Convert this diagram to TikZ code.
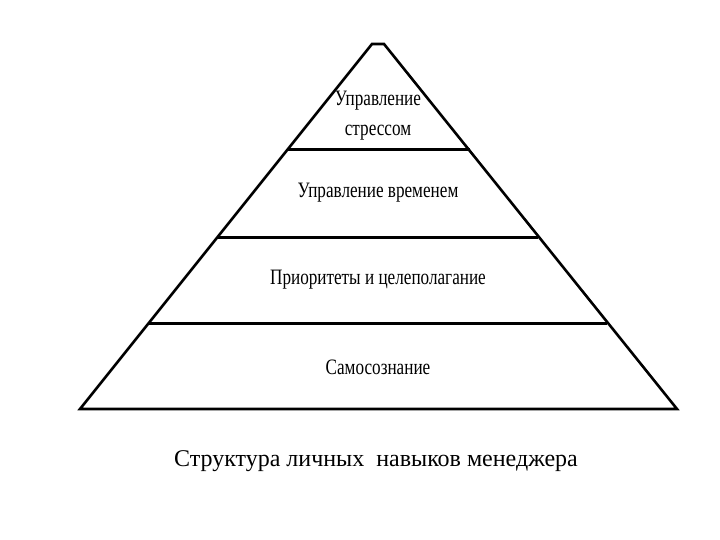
\documentclass[tikz,border=0pt]{standalone}
\usepackage{fontspec}
\setmainfont{Liberation Serif}
\begin{document}
\begin{tikzpicture}[x=1pt,y=-1pt,
  lvl/.style={font=\fontsize{22}{30}\selectfont, xscale=0.78, align=center},
  edge/.style={line width=3pt}]
\useasboundingbox (0,0) rectangle (720,540);
\coordinate (tl) at (372,44);
\coordinate (tr) at (384,44);
\coordinate (bl) at (80,409);
\coordinate (br) at (677,409);
\draw[line width=2.6pt,line join=miter] (bl) -- (tl) -- (tr) -- (br) -- cycle;
\coordinate (a1) at (287,150); \coordinate (a2) at (470,150);
\coordinate (b1) at (218,237); \coordinate (b2) at (538,237);
\coordinate (c1) at (148,323); \coordinate (c2) at (607,323);
\draw[edge] (a1) -- (a2);
\draw[edge] (b1) -- (b2);
\draw[edge] (c1) -- (c2);
\node[lvl] (t1) at (378,116) {Управление\\стрессом};
\node[lvl] (t2) at (378,193) {Управление временем};
\node[lvl] (t3) at (378,280) {Приоритеты и целеполагание};
\node[lvl] (t4) at (378,367) {Самосознание};
\node[font=\fontsize{24}{28}\selectfont] (cap) at (376,461) {Структура личных\ \ навыков менеджера};
\end{tikzpicture}
\end{document}
